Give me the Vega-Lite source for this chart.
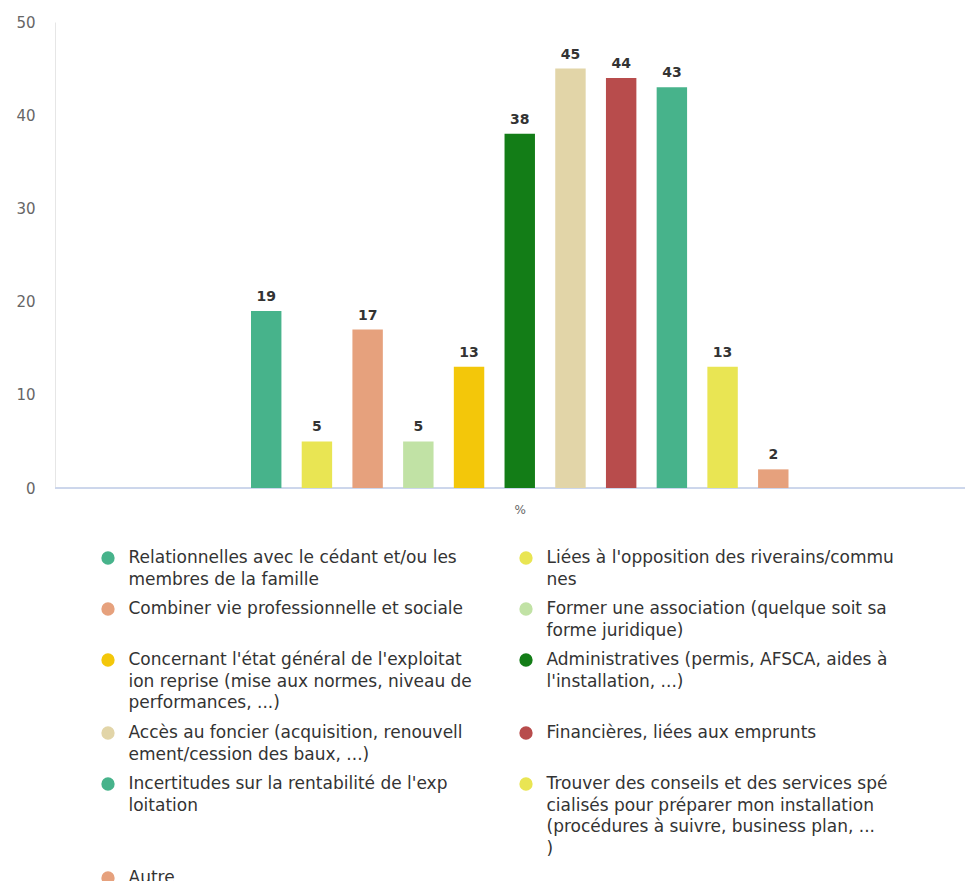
{
  "$schema": "https://vega.github.io/schema/vega-lite/v6.json",
  "autosize": {"type": "none"},
  "padding": {"left": 55, "top": 22, "right": 0, "bottom": 393},
  "width": 910,
  "height": 466,
  "config": {"view": {"stroke": null}, "font": "DejaVu Sans"},
  "data": {"values": [
    {"serie": "Relationnelles avec le cédant et/ou les\nmembres de la famille", "pct": 19},
    {"serie": "Liées à l'opposition des riverains/commu\nnes", "pct": 5},
    {"serie": "Combiner vie professionnelle et sociale", "pct": 17},
    {"serie": "Former une association (quelque soit sa\nforme juridique)", "pct": 5},
    {"serie": "Concernant l'état général de l'exploitat\nion reprise (mise aux normes, niveau de\nperformances, ...)", "pct": 13},
    {"serie": "Administratives (permis, AFSCA, aides à\nl'installation, ...)", "pct": 38},
    {"serie": "Accès au foncier (acquisition, renouvell\nement/cession des baux, ...)", "pct": 45},
    {"serie": "Financières, liées aux emprunts", "pct": 44},
    {"serie": "Incertitudes sur la rentabilité de l'exp\nloitation", "pct": 43},
    {"serie": "Trouver des conseils et des services spé\ncialisés pour préparer mon installation\n(procédures à suivre, business plan, ...\n)", "pct": 13},
    {"serie": "Autre", "pct": 2}
  ]},
  "layer": [
    {
      "mark": {"type": "rule", "color": "#ccd6eb", "strokeWidth": 1},
      "encoding": {"y": {"datum": 0, "type": "quantitative", "scale": {"domain": [0, 50], "nice": false}}}
    },
    {
      "mark": {"type": "bar"},
      "encoding": {
        "x": {
          "field": "serie", "type": "nominal", "sort": null,
          "scale": {"range": [196, 733.5], "paddingInner": 0.4, "paddingOuter": 0},
          "axis": {"labels": false, "ticks": false, "grid": false, "domain": false,
                   "title": "%", "titleFontSize": 12, "titleFontWeight": "normal", "titleColor": "#666666",
                   "titlePadding": 16, "titleAlign": "center"}
        },
        "y": {
          "field": "pct", "type": "quantitative",
          "scale": {"domain": [0, 50], "nice": false},
          "axis": {"values": [0, 10, 20, 30, 40, 50], "title": null, "ticks": false, "domain": true, "domainColor": "#e6e6e6",
                   "gridColor": "#e6e6e6", "labelColor": "#666666", "labelFontSize": 15, "labelPadding": 20}
        },
        "color": {
          "field": "serie", "type": "nominal", "sort": null,
          "scale": {"range": ["#47b38b", "#e9e553", "#e6a17d", "#c1e2a5", "#f3c70a", "#137d17", "#e2d5a8", "#b84c4c", "#47b38b", "#e9e553", "#e6a17d"]},
          "legend": {
            "orient": "none", "direction": "horizontal", "legendX": 44.5, "legendY": 527.5, "columns": 2, "title": null,
            "padding": 0, "symbolType": "circle", "symbolSize": 177, "symbolStrokeWidth": 0, "symbolOpacity": 1,
            "labelFontSize": 17, "labelColor": "#333333", "labelOffset": 12, "labelLimit": 600,
            "rowPadding": 12, "columnPadding": 45, "labelBaseline": "top",
            "labelExpr": "split(datum.label, '\\n')",
            "encode": {"labels": {"update": {"dy": {"value": -8}, "lineHeight": {"value": 21.5}}}}
          }
        }
      }
    },
    {
      "mark": {"type": "text", "baseline": "alphabetic", "dy": -10, "fontWeight": "bold", "fontSize": 14, "color": "#333333"},
      "encoding": {
        "x": {"field": "serie", "type": "nominal", "sort": null},
        "y": {"field": "pct", "type": "quantitative"},
        "text": {"field": "pct", "type": "quantitative"}
      }
    }
  ]
}
